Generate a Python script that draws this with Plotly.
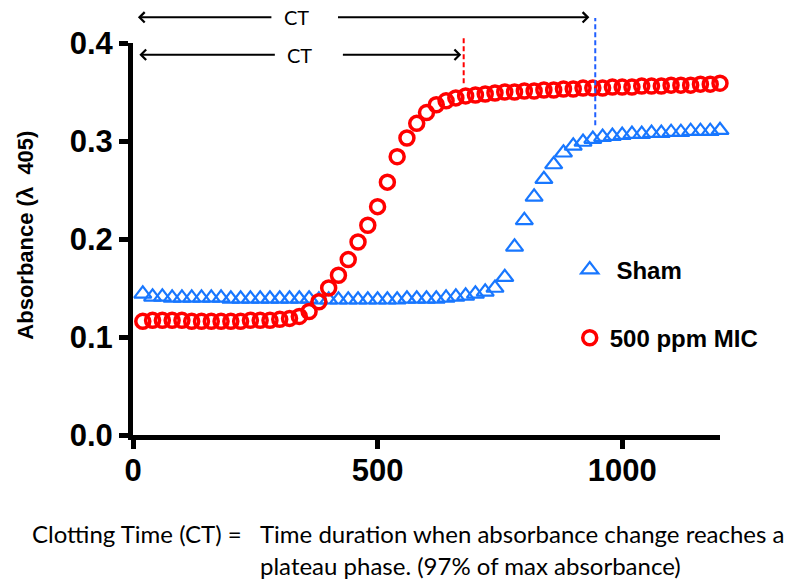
"""Clotting kinetics: absorbance at 405 nm over time, Sham vs 500 ppm MIC."""
import plotly.graph_objects as go

# ------------------------------------------------------------------ #
# Data                               #
# ------------------------------------------------------------------ #
TIME_S = list(range(20, 1220, 20))

SHAM = [
    0.144, 0.141, 0.141, 0.140, 0.140, 0.140, 0.140, 0.140, 0.140, 0.139,
    0.139, 0.139, 0.139, 0.139, 0.139, 0.139, 0.139, 0.139, 0.138, 0.138,
    0.138, 0.138, 0.138, 0.138, 0.138, 0.138, 0.138, 0.139, 0.139, 0.139,
    0.139, 0.140, 0.141, 0.142, 0.144, 0.146, 0.150, 0.161, 0.192, 0.219,
    0.243, 0.261, 0.276, 0.288, 0.295, 0.299, 0.302, 0.304, 0.305, 0.306,
    0.307, 0.307, 0.308, 0.308, 0.309, 0.309, 0.310, 0.310, 0.310, 0.311,
]

MIC_500 = [
    0.116, 0.117, 0.117, 0.117, 0.117, 0.116, 0.116, 0.116, 0.116, 0.116,
    0.116, 0.117, 0.117, 0.117, 0.118, 0.119, 0.121, 0.126, 0.136, 0.150,
    0.163, 0.179, 0.197, 0.214, 0.233, 0.258, 0.284, 0.303, 0.318, 0.329,
    0.337, 0.341, 0.344, 0.346, 0.347, 0.348, 0.349, 0.350, 0.350, 0.351,
    0.351, 0.352, 0.352, 0.353, 0.353, 0.354, 0.354, 0.354, 0.355, 0.355,
    0.355, 0.356, 0.356, 0.356, 0.357, 0.357, 0.357, 0.358, 0.358, 0.359,
]

X_TICKS = [0, 500, 1000]
Y_TICKS = [0.0, 0.1, 0.2, 0.3, 0.4]
X_MAX = 1200
Y_MAX = 0.4

# clotting times (s) marked by the dashed lines
CT_SHAM = 945
CT_MIC = 676

BLUE = "#1877ff"
RED = "#ff0000"
BOLD = "Liberation Sans"
CAPTION = "Lato"

fig = go.Figure()
fig.add_trace(
    go.Scatter(
        x=TIME_S,
        y=SHAM,
        mode="markers",
        name="\u00a0Sham",
        legend="legend",
        marker=dict(symbol="triangle-up-open", size=15, color=BLUE,
                    line=dict(width=2.2, color=BLUE)),
        cliponaxis=False,
    )
)
fig.add_trace(
    go.Scatter(
        x=TIME_S,
        y=MIC_500,
        mode="markers",
        name="500 ppm MIC",
        legend="legend2",
        marker=dict(symbol="circle-open", size=14, color=RED,
                    line=dict(width=3.5, color=RED)),
        cliponaxis=False,
    )
)

# dashed CT markers (they reach above the plot area, so y is in paper units)
for ct, top, bottom, colour in [(CT_SHAM, 0.4255, 0.316, "#1f5fff"),
                                (CT_MIC, 0.406, 0.359, RED)]:
    fig.add_shape(
        type="line", xref="x", yref="paper",
        x0=ct, x1=ct, y0=bottom / Y_MAX, y1=top / Y_MAX,
        line=dict(color=colour, width=2, dash="5px,3px"),
    )

# CT arrows: left and right halves with the label in the gap
arrows = [
    # (level, left head, left tail, right tail, right head, label x)
    (0.4262, 10, 286, 416, 933, 334),
    (0.388, 13, 293, 426, 671, 340),
]
for level, lhead, ltail, rtail, rhead, lab_x in arrows:
    for head, tail in [(lhead, ltail), (rhead, rtail)]:
        fig.add_annotation(
            x=head, y=level / Y_MAX, ax=tail, ay=0,
            xref="x", yref="paper", axref="x", ayref="pixel",
            text="", showarrow=True, arrowhead=4, arrowsize=1,
            arrowwidth=2, arrowcolor="black", standoff=0,
        )
    fig.add_annotation(
        x=lab_x, y=level / Y_MAX, xref="x", yref="paper", text="CT",
        showarrow=False, xanchor="center", yanchor="middle", borderpad=0,
        font=dict(family=CAPTION, size=20, color="black"),
    )

# y-axis title
fig.add_annotation(
    x=-0.183, y=0.51, xref="paper", yref="paper", textangle=-90,
    xanchor="center", yanchor="middle",
    text="Absorbance (λ\u00a0\u00a0405)", showarrow=False,
    font=dict(family=BOLD, size=22, color="black", weight="bold"),
)

# caption below the chart
caption_font = dict(family=CAPTION, size=24, color="black")
fig.add_annotation(
    x=-0.176, y=-0.25, xref="paper", yref="paper", xanchor="left",
    yanchor="middle", text="Clotting Time (CT) =", showarrow=False,
    font=caption_font,
)
fig.add_annotation(
    x=0.2125, y=-0.25, xref="paper", yref="paper", xanchor="left",
    yanchor="middle", text="Time duration when absorbance change reaches a",
    showarrow=False, font=caption_font,
)
fig.add_annotation(
    x=0.2125, y=-0.334, xref="paper", yref="paper", xanchor="left",
    yanchor="middle", text="plateau phase. (97% of max absorbance)",
    showarrow=False, font=caption_font,
)

axis_common = dict(
    showline=True, linewidth=5, linecolor="black", mirror=False,
    ticks="outside", ticklen=9, tickwidth=5, tickcolor="black",
    showgrid=False, zeroline=False,
    tickfont=dict(family=BOLD, size=31, color="black", weight="bold"),
)

legend_common = dict(
    xanchor="left", yanchor="middle", bgcolor="rgba(0,0,0,0)",
    font=dict(family=BOLD, size=24, color="black", weight="bold"),
    itemsizing="trace",
)

fig.update_layout(
    width=800,
    height=588,
    margin=dict(l=133, r=80, t=43, b=153),
    plot_bgcolor="white",
    paper_bgcolor="white",
    xaxis=dict(range=[0, X_MAX], tickvals=X_TICKS, ticklabelstandoff=-5,
               **axis_common),
    yaxis=dict(range=[0, Y_MAX], tickvals=Y_TICKS, tickformat=".1f",
               **axis_common),
    showlegend=True,
    legend=dict(x=0.744, y=0.421, **legend_common),
    legend2=dict(x=0.744, y=0.247, **legend_common),
)

# drop the default 8px page margin so the figure fills the window exactly
fig.write_html(
    "out.html",
    config={"displayModeBar": False},
    post_script="document.body.style.margin = '0';",
)
